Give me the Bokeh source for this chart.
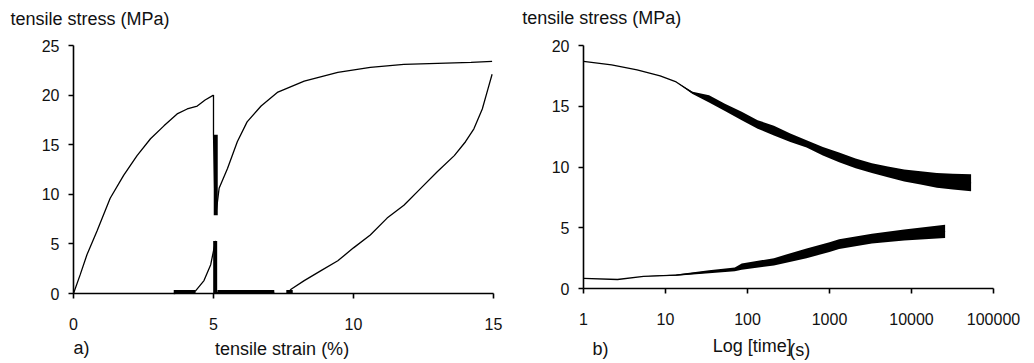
from bokeh.plotting import figure
from bokeh.layouts import row
from bokeh.models import Range1d, FixedTicker, Label, PrintfTickFormatter
from bokeh.embed import file_html
from bokeh.resources import INLINE
import numpy as np

# ---------------- panel a) data: tensile strain (%) vs tensile stress (MPa)
load_strain = [0, 0.24, 0.48, 0.84, 1.31, 1.79, 2.27, 2.75, 3.23, 3.7, 4.06, 4.42, 4.7, 5.0]
load_stress = [0, 1.9, 3.9, 6.3, 9.6, 11.9, 13.9, 15.6, 16.9, 18.1, 18.6, 18.9, 19.5, 20.0]

drop_strain = [5.0, 5.0, 5.06]
drop_stress = [20.0, 16.0, 8.0]

reload_strain = [5.1, 5.2, 5.5, 5.85, 6.2, 6.7, 7.3, 8.24, 9.44, 10.6, 11.8, 13.0, 14.2, 14.95]
reload_stress = [8.3, 10.6, 12.6, 15.3, 17.3, 18.9, 20.3, 21.4, 22.3, 22.8, 23.1, 23.2, 23.3, 23.4]

unload_strain = [14.95, 14.8, 14.6, 14.3, 14.0, 13.6, 13.0, 12.4, 11.8, 11.2, 10.6, 10.0, 9.44, 8.84, 8.24, 7.77, 7.65]
unload_stress = [22.1, 20.6, 18.6, 16.6, 15.3, 13.9, 12.3, 10.6, 8.9, 7.6, 5.9, 4.6, 3.3, 2.3, 1.3, 0.43, 0.0]

cycle2_strain = [3.58, 4.36, 4.66, 4.9, 5.0, 5.08, 5.08, 5.14, 7.17]
cycle2_stress = [0.0, 0.27, 1.3, 2.9, 4.3, 5.3, 0.0, 0.1, 0.1]

# noisy (thick) stretches of the record: start/end strain and stress
noisy_x0 = [3.58, 5.14, 7.6, 5.08, 5.06]
noisy_x1 = [4.36, 7.17, 7.83, 5.08, 5.06]
noisy_y0 = [0.15, 0.15, 0.15, 16.0, 5.3]
noisy_y1 = [0.15, 0.15, 0.15, 7.9, 0.0]

# ---------------- panel b) data: time (s) vs tensile stress (MPa)
relax_time = [1, 2.2, 4.5, 8.6, 13.5, 21.4, 34, 53, 85, 133, 210, 333, 525, 830, 1310, 2080, 3290, 5150, 8150, 12900, 20400, 32000, 53300]
relax_stress = [18.7, 18.4, 18.0, 17.5, 17.0, 16.1, 15.6, 14.9, 14.2, 13.5, 13.0, 12.4, 11.9, 11.3, 10.8, 10.3, 9.9, 9.6, 9.3, 9.1, 8.9, 8.8, 8.7]
relax_spread = [0, 0, 0, 0, 0, 0.1, 0.3, 0.3, 0.35, 0.35, 0.4, 0.35, 0.3, 0.35, 0.4, 0.4, 0.4, 0.45, 0.5, 0.55, 0.6, 0.65, 0.7]

recov_time = [1, 2.6, 5.4, 13.5, 34, 70, 85, 210, 525, 1000, 1310, 3290, 8150, 25700]
recov_stress = [0.83, 0.74, 1.0, 1.1, 1.38, 1.57, 1.8, 2.2, 2.9, 3.4, 3.65, 4.1, 4.4, 4.7]
recov_spread = [0, 0, 0, 0.05, 0.12, 0.15, 0.25, 0.3, 0.4, 0.4, 0.4, 0.4, 0.45, 0.55]

left_yticks = [0, 5, 10, 15, 20, 25]
left_xticks = [0, 5, 10, 15]
right_yticks = [0, 5, 10, 15, 20]
right_xticks = [1, 10, 100, 1000, 10000, 100000]

TICK_FONT = "Liberation Sans"
TEXT_FONT = "Liberation Sans"
INK = "#111111"

W1, W2, H = 508, 524, 361


def style(p):
    p.xgrid.visible = False
    p.ygrid.visible = False
    p.outline_line_color = None
    p.background_fill_color = "white"
    p.border_fill_color = "white"
    for ax in (p.xaxis, p.yaxis):
        ax.axis_line_width = 1.6
        ax.axis_line_color = "black"
        ax.major_tick_line_color = "black"
        ax.major_tick_line_width = 1.6
        ax.major_tick_out = 5
        ax.major_tick_in = 0
        ax.minor_tick_out = 0
        ax.minor_tick_in = 0
        ax.major_label_text_font = TICK_FONT
        ax.major_label_text_font_size = "16px"
        ax.major_label_text_color = INK
    p.xaxis.major_label_standoff = 19
    p.yaxis.major_label_standoff = 9


def label(p, x, y, text, size="18px", align="left"):
    p.add_layout(Label(x=x, y=y, text=text, text_font=TEXT_FONT, text_font_size=size,
                       text_color=INK, text_align=align, text_baseline="middle"))


# ---------------- panel a)  (frame fills the canvas; axes are pinned at 0)
x0_px, xs = 73, 28.0      # pixel of strain 0 inside the canvas, px per % strain
y0_px, ys = 293, 9.92     # pixel of stress 0 from the canvas top, px per MPa
p1 = figure(width=W1, height=H,
            x_range=Range1d(-x0_px / xs, (W1 - x0_px) / xs),
            y_range=Range1d(-(H - y0_px) / ys, y0_px / ys),
            output_backend="svg", toolbar_location=None,
            min_border=0, min_border_left=0, min_border_right=0, min_border_top=0, min_border_bottom=0)
style(p1)
p1.xaxis.ticker = FixedTicker(ticks=left_xticks)
p1.yaxis.ticker = FixedTicker(ticks=left_yticks)
p1.xaxis.fixed_location = 0
p1.yaxis.fixed_location = 0
p1.xaxis.bounds = (0, 15)
p1.yaxis.bounds = (0, 25)

lw = 1.3
p1.line(load_strain, load_stress, line_color="black", line_width=lw)
p1.line(drop_strain, drop_stress, line_color="black", line_width=lw)
p1.line(reload_strain, reload_stress, line_color="black", line_width=lw)
p1.line(unload_strain, unload_stress, line_color="black", line_width=lw)
p1.line(cycle2_strain, cycle2_stress, line_color="black", line_width=lw)
p1.segment(x0=noisy_x0, y0=noisy_y0, x1=noisy_x1, y1=noisy_y1, line_color="black", line_width=4)

label(p1, -2.25, 27.7, "tensile stress (MPa)")
label(p1, 0.0, -5.45, "a)")
label(p1, 7.45, -5.55, "tensile strain (%)", align="center")

# ---------------- panel b)
x1_px, dec = 75, 82.0     # pixel of t = 1 s inside the canvas, px per decade
y1_px, ys2 = 288, 12.15
p2 = figure(width=W2, height=H, x_axis_type="log",
            x_range=Range1d(10 ** (-x1_px / dec), 10 ** ((W2 - x1_px) / dec)),
            y_range=Range1d(-(H - y1_px) / ys2, y1_px / ys2),
            output_backend="svg", toolbar_location=None,
            min_border=0, min_border_left=0, min_border_right=0, min_border_top=0, min_border_bottom=0)
style(p2)
p2.xaxis.ticker = FixedTicker(ticks=right_xticks)
p2.xaxis.formatter = PrintfTickFormatter(format="%d")
p2.yaxis.ticker = FixedTicker(ticks=right_yticks)
p2.xaxis.fixed_location = 0
p2.yaxis.fixed_location = 1
p2.xaxis.bounds = (1, 100000)
p2.yaxis.bounds = (0, 20)

rs = np.array(relax_stress)
rsp = np.array(relax_spread)
p2.varea(x=relax_time, y1=rs - rsp, y2=rs + rsp, fill_color="black")
p2.line(relax_time, relax_stress, line_color="black", line_width=lw)

cs = np.array(recov_stress)
csp = np.array(recov_spread)
p2.varea(x=recov_time, y1=cs - csp, y2=cs + csp, fill_color="black")
p2.line(recov_time, recov_stress, line_color="black", line_width=lw)

label(p2, 0.179, 22.3, "tensile stress (MPa)")
label(p2, 1.29, -5.0, "b)")
label(p2, 37.7, -4.77, "Log [time]")
label(p2, 323, -5.1, "(s)")

layout = row(p1, p2)
open("out.html", "w").write(file_html(layout, INLINE))
